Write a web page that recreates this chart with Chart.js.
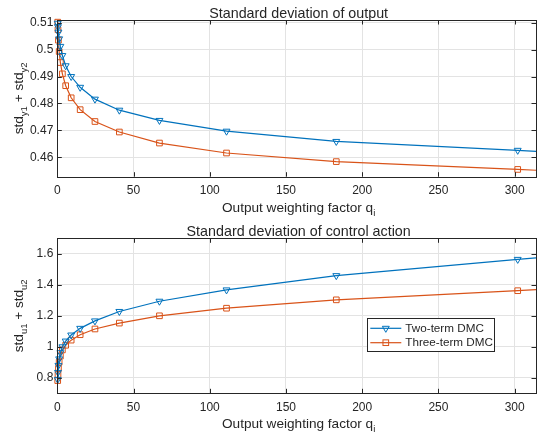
<!DOCTYPE html>
<html>
<head>
<meta charset="utf-8">
<script src="https://cdn.jsdelivr.net/npm/chart.js@4.4.0/dist/chart.umd.min.js"></script>
<style>
  html, body { margin: 0; padding: 0; background: #fff; }
  #wrap { position: relative; width: 541px; height: 442px; }
  .panel { position: absolute; left: 0; width: 541px; height: 221px; }
</style>
</head>
<body>
<div id="wrap">
  <div class="panel" style="top:0"><canvas id="outputChart" width="541" height="221"></canvas></div>
  <div class="panel" style="top:221px"><canvas id="controlChart" width="541" height="221"></canvas></div>
</div>
<script>
// output weighting factor q_i (last value is where the curves leave the plot, no marker)
const qValues = [0.27, 0.45, 0.74, 1.22, 2.02, 3.33, 5.5, 9.1, 15, 24.7, 40.7, 67, 111, 183, 302, 314];

// std_y1 + std_y2
const stdYTwoTerm   = [0.5098, 0.5085, 0.5065, 0.5040, 0.5012, 0.4978, 0.4940, 0.4900, 0.4860, 0.4816, 0.4775, 0.4737, 0.4697, 0.4659, 0.4626, 0.4622];
const stdYThreeTerm = [0.5102, 0.5074, 0.5035, 0.4993, 0.4952, 0.4910, 0.4866, 0.4821, 0.4777, 0.4733, 0.4694, 0.4653, 0.4616, 0.4584, 0.4555, 0.4552];

// std_u1 + std_u2
const stdUTwoTerm   = [0.790, 0.835, 0.880, 0.922, 0.962, 1.000, 1.037, 1.076, 1.119, 1.167, 1.228, 1.294, 1.367, 1.459, 1.564, 1.574];
const stdUThreeTerm = [0.782, 0.820, 0.860, 0.900, 0.940, 0.980, 1.010, 1.043, 1.078, 1.115, 1.153, 1.200, 1.249, 1.303, 1.362, 1.369];

// ticks
const qTicks = [0, 50, 100, 150, 200, 250, 300];
const stdYTicks = [0.46, 0.47, 0.48, 0.49, 0.5, 0.51];
const stdUTicks = [0.8, 1, 1.2, 1.4, 1.6];

const seriesNames = ['Two-term DMC', 'Three-term DMC'];

const BLUE = '#0072BD';
const ORANGE = '#D95319';
const AXIS = '#262626';
const GRID = '#e3e3e3';
const FONT = '"Liberation Sans", Arial, Helvetica, sans-serif';
const TICK_SIZE = 12;
const LABEL_SIZE = 13.6;
const TITLE_SIZE = 14.3;
const SUB_SIZE = 9.5;

function toPoints(ys) {
    return qValues.map((q, i) => ({ x: q, y: ys[i] }));
}

function makeDataset(label, ys, color, style) {
    return {
        label: label,
        data: toPoints(ys),
        borderColor: color,
        backgroundColor: color,
        borderWidth: 1.2,
        pointStyle: style,
        pointRotation: style === 'triangle' ? 180 : 0,
        pointRadius: ctx => ctx.dataIndex === qValues.length - 1 ? 0 : 4,
        pointBorderWidth: 1,
        pointBackgroundColor: 'rgba(0,0,0,0)',
        pointBorderColor: color,
        showLine: true,
        tension: 0,
        clip: false
    };
}

// text with subscripts: parts = [[text, isSub], ...], centred on 0
function drawRichText(ctx, parts, size, subSize, subShift) {
    let total = 0;
    const widths = parts.map(p => {
        ctx.font = (p[1] ? subSize : size) + 'px ' + FONT;
        const w = ctx.measureText(p[0]).width;
        total += w;
        return w;
    });
    let x = -total / 2;
    parts.forEach((p, i) => {
        ctx.font = (p[1] ? subSize : size) + 'px ' + FONT;
        ctx.fillText(p[0], x, p[1] ? subShift : 0);
        x += widths[i];
    });
}

function drawTriangleDown(ctx, x, y, r) {
    ctx.beginPath();
    ctx.moveTo(x, y + r);
    ctx.lineTo(x - r * 0.866, y - r * 0.5);
    ctx.lineTo(x + r * 0.866, y - r * 0.5);
    ctx.closePath();
    ctx.stroke();
}

function drawSquare(ctx, x, y, r) {
    const s = r * Math.SQRT1_2;
    ctx.strokeRect(x - s, y - s, 2 * s, 2 * s);
}

// axes box, inward ticks, title and axis labels like a MATLAB axes
const decorPlugin = {
    id: 'decor',
    afterDraw(chart, args, opts) {
        const ctx = chart.ctx;
        const a = chart.chartArea;
        const xs = chart.scales.x;
        const ys = chart.scales.y;
        ctx.save();
        ctx.strokeStyle = AXIS;
        ctx.lineWidth = 1;
        ctx.strokeRect(Math.round(a.left) + 0.5, Math.round(a.top) + 0.5,
            Math.round(a.right) - Math.round(a.left), Math.round(a.bottom) - Math.round(a.top));
        const tl = 4.5;
        ctx.beginPath();
        xs.ticks.forEach(t => {
            const px = Math.round(xs.getPixelForValue(t.value)) + 0.5;
            ctx.moveTo(px, a.bottom); ctx.lineTo(px, a.bottom - tl);
            ctx.moveTo(px, a.top); ctx.lineTo(px, a.top + tl);
        });
        ys.ticks.forEach(t => {
            const py = Math.round(ys.getPixelForValue(t.value)) + 0.5;
            ctx.moveTo(a.left, py); ctx.lineTo(a.left + tl, py);
            ctx.moveTo(a.right, py); ctx.lineTo(a.right - tl, py);
        });
        ctx.stroke();

        ctx.fillStyle = AXIS;
        ctx.textAlign = 'left';
        ctx.textBaseline = 'alphabetic';
        const cx = (a.left + a.right) / 2;

        // title
        ctx.save();
        ctx.translate(cx + 2, a.top - 2.5);
        drawRichText(ctx, [[opts.title, false]], TITLE_SIZE, SUB_SIZE, 0);
        ctx.restore();

        // x label
        ctx.save();
        ctx.translate(cx + 2, a.bottom + 35);
        drawRichText(ctx, [['Output weighting factor q', false], ['i', true]], LABEL_SIZE, SUB_SIZE, 4);
        ctx.restore();

        // y label
        ctx.save();
        ctx.translate(22.5, (a.top + a.bottom) / 2);
        ctx.rotate(-Math.PI / 2);
        drawRichText(ctx, opts.yLabel, LABEL_SIZE, SUB_SIZE, 4.5);
        ctx.restore();

        if (opts.legend) {
            const lg = opts.legend;
            ctx.fillStyle = '#fff';
            ctx.fillRect(lg.left, lg.top, lg.width, lg.height);
            ctx.strokeStyle = AXIS;
            ctx.strokeRect(Math.round(lg.left) + 0.5, Math.round(lg.top) + 0.5, Math.round(lg.width), Math.round(lg.height));
            chart.data.datasets.forEach((ds, i) => {
                const y = lg.top + 10 + i * 14.4;
                ctx.strokeStyle = ds.borderColor;
                ctx.lineWidth = 1.2;
                ctx.beginPath();
                ctx.moveTo(lg.left + 3, y);
                ctx.lineTo(lg.left + 34, y);
                ctx.stroke();
                ctx.lineWidth = 1;
                if (ds.pointStyle === 'triangle') drawTriangleDown(ctx, lg.left + 18.5, y, 4);
                else drawSquare(ctx, lg.left + 18.5, y, 4);
                ctx.fillStyle = AXIS;
                ctx.font = '11.7px ' + FONT;
                ctx.textBaseline = 'middle';
                ctx.fillText(ds.label, lg.left + 38, y + 0.5);
            });
        }
        ctx.restore();
    }
};

function makeChart(canvasId, twoTerm, threeTerm, yMin, yMax, yTicks, top, xHeight, decor) {
    const ctx = document.getElementById(canvasId).getContext('2d');
    return new Chart(ctx, {
        type: 'scatter',
        data: {
            datasets: [
                makeDataset(seriesNames[0], twoTerm, BLUE, 'triangle'),
                makeDataset(seriesNames[1], threeTerm, ORANGE, 'rect')
            ]
        },
        options: {
            responsive: false,
            devicePixelRatio: 1,
            animation: false,
            layout: { padding: { top: top, right: 2.5, left: 0, bottom: 0 } },
            plugins: {
                legend: { display: false },
                tooltip: { enabled: false },
                decor: decor
            },
            scales: {
                x: {
                    type: 'linear',
                    min: 0,
                    max: 314,
                    afterFit: s => { s.height = xHeight; },
                    afterBuildTicks: s => { s.ticks = qTicks.map(v => ({ value: v })); },
                    grid: { color: GRID, drawTicks: false },
                    border: { display: false },
                    ticks: {
                        color: AXIS,
                        padding: 7,
                        maxRotation: 0,
                        font: { family: FONT, size: TICK_SIZE },
                        callback: v => String(v)
                    }
                },
                y: {
                    type: 'linear',
                    min: yMin,
                    max: yMax,
                    afterFit: s => { s.width = 57.3; },
                    afterBuildTicks: s => { s.ticks = yTicks.map(v => ({ value: v })); },
                    grid: { color: GRID, drawTicks: false },
                    border: { display: false },
                    ticks: {
                        color: AXIS,
                        padding: 4,
                        font: { family: FONT, size: TICK_SIZE },
                        callback: v => String(+v.toFixed(2))
                    }
                }
            }
        },
        plugins: [decorPlugin]
    });
}

makeChart('outputChart', stdYTwoTerm, stdYThreeTerm, 0.4528, 0.511, stdYTicks, 20, 44.3, {
    title: 'Standard deviation of output',
    yLabel: [['std', false], ['y1', true], [' + std', false], ['y2', true]]
});

makeChart('controlChart', stdUTwoTerm, stdUThreeTerm, 0.7, 1.7, stdUTicks, 17.3, 48.7, {
    title: 'Standard deviation of control action',
    yLabel: [['std', false], ['u1', true], [' + std', false], ['u2', true]],
    legend: { left: 367.3, top: 97.3, width: 127, height: 32.7 }
});
</script>
</body>
</html>
